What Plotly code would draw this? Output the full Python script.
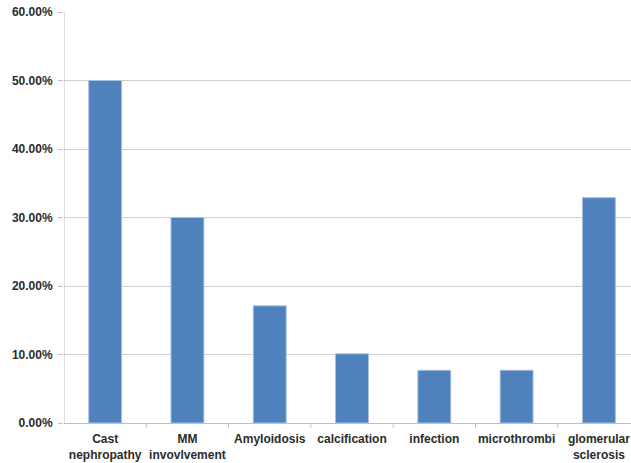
import plotly.graph_objects as go

# Renal biopsy findings, share of cases
categories = ["Cast<br>nephropathy", "MM<br>invovlvement", "Amyloidosis", "calcification",
              "infection", "microthrombi", "glomerular<br>sclerosis"]
shares = [0.50, 0.30, 0.171, 0.101, 0.077, 0.077, 0.329]
y_ticks = [0, 0.1, 0.2, 0.3, 0.4, 0.5, 0.6]
y_tick_labels = ["0.00%", "10.00%", "20.00%", "30.00%", "40.00%", "50.00%", "60.00%"]

fig = go.Figure(
    go.Bar(
        x=list(range(len(categories))),
        y=shares,
        marker=dict(color="#4F81BD", line=dict(color="#a9c0df", width=1)),
        width=0.4,
        hoverinfo="skip",
    )
)

label_font = dict(family="Liberation Sans, Arial, sans-serif", size=12, color="#2b2b2b")

fig.update_layout(
    width=631,
    height=463,
    margin=dict(l=64, r=0, t=12, b=40),
    paper_bgcolor="white",
    plot_bgcolor="white",
    showlegend=False,
    bargap=0.6,
)

fig.update_xaxes(
    tickmode="array",
    tickvals=list(range(len(categories))),
    ticktext=[f"<b>{c}</b>" for c in categories],
    range=[-0.5, 6.39],
    showgrid=False,
    showline=True,
    linecolor="#bfbfbf",
    linewidth=1,
    ticks="",
    tickfont=label_font,
    ticklabelstandoff=5,
    zeroline=False,
)

# Value axis line and tick marks on the category boundaries
fig.add_shape(type="line", xref="x", yref="paper", x0=-0.5, x1=-0.5, y0=0, y1=1,
              line=dict(color="#bfbfbf", width=1))
for b in [i + 0.5 for i in range(len(categories) - 1)]:
    fig.add_shape(type="line", xref="x", yref="paper", x0=b, x1=b, y0=0, y1=-0.012,
                  line=dict(color="#bfbfbf", width=1))

fig.update_yaxes(
    range=[0, 0.6],
    tickmode="array",
    tickvals=y_ticks,
    ticktext=[f"<b>{t}</b>" for t in y_tick_labels],
    showgrid=True,
    gridcolor="#d0d0d0",
    gridwidth=1,
    showline=False,
    ticks="outside",
    ticklen=5,
    tickcolor="#bfbfbf",
    tickfont=label_font,
    ticklabelstandoff=3,
    zeroline=False,
)

fig.write_html("out.html")
